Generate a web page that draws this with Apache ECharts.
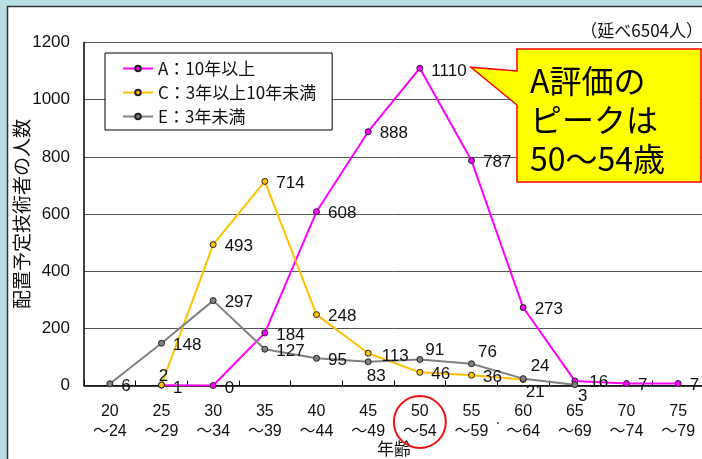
<!DOCTYPE html>
<html><head><meta charset="utf-8">
<script src="https://cdn.jsdelivr.net/npm/echarts@6/dist/echarts.min.js"></script>
<style>html,body{margin:0;padding:0;background:#b9dfe3;}#c{width:702px;height:459px;}</style>
</head><body><div id="c"></div>
<script>
var categories = ['20～24','25～29','30～34','35～39','40～44','45～49','50～54','55～59','60～64','65～69','70～74','75～79'];
var seriesA = [null, 1, 0, 184, 608, 888, 1110, 787, 273, 16, 7, 7];
var seriesC = [null, 2, 493, 714, 248, 113, 46, 36, 21, null, null, null];
var seriesE = [6, 148, 297, 127, 95, 83, 91, 76, 24, 3, null, null];
var yTicks = [0, 200, 400, 600, 800, 1000, 1200];
var names = ['A：10年以上', 'C：3年以上10年未満', 'E：3年未満'];

var FONT = '"Liberation Sans", "Noto Sans CJK JP", sans-serif';
var JFONT = '"Noto Sans CJK JP", sans-serif';

// label placement tweaks (styling only)
var labelTweaks = {
  A: {1:{offset:[0,3]}, 2:{offset:[0,3]}, 6:{offset:[0,3]}, 9:{offset:[3,1]}},
  C: {1:{position:'top', distance:0, offset:[2,3]}, 5:{offset:[2,3]}, 8:{position:'bottom', distance:1, offset:[12,0]}},
  E: {0:{offset:[0,3]}, 5:{position:'bottom', distance:3, offset:[8,0]}, 6:{distance:2, offset:[0,-9]},
      7:{distance:3, offset:[0,-11]}, 8:{distance:4, offset:[0,-12]}, 9:{position:'bottom', distance:0, offset:[8,0]}}
};

function build(arr, key) {
  return arr.map(function (v, i) {
    var t = labelTweaks[key][i];
    if (v === null) return null;
    return t ? {value: v, label: t} : v;
  });
}

function mkSeries(name, arr, key, color) {
  return {
    name: name, type: 'line', data: build(arr, key),
    symbol: 'circle', symbolSize: 6,
    itemStyle: {color: color, borderColor: '#222', borderWidth: 1},
    lineStyle: {color: color, width: 2},
    connectNulls: false,
    label: {show: true, position: 'right', distance: 8, offset: [0, 2], fontSize: 17, color: '#111', fontFamily: FONT},
    emphasis: {disabled: true},
    z: 3
  };
}

var chart = echarts.init(document.getElementById('c'), null, {renderer: 'canvas'});
var option = {
  animation: false,
  backgroundColor: '#b9dfe3',
  grid: {left: 84, top: 42.5, width: 620, height: 343, containLabel: false, outerBoundsMode: 'none'},
  legend: {
    orient: 'vertical', left: 105, top: 53,
    data: names,
    backgroundColor: '#fff', borderColor: '#000', borderWidth: 1,
    padding: [7, 16, 5, 17],
    itemWidth: 30, itemHeight: 7, itemGap: 7,
    textStyle: {fontSize: 17, color: '#111', fontFamily: JFONT},
    selectedMode: false
  },
  xAxis: {
    type: 'category', data: categories, boundaryGap: true,
    name: '年齢', nameLocation: 'middle', nameGap: 55, nameMoveOverlap: false,
    nameTextStyle: {fontSize: 17, color: '#111', fontFamily: JFONT},
    axisLine: {lineStyle: {color: '#000', width: 1.5}},
    axisTick: {show: true, inside: true, length: 5, alignWithLabel: false, lineStyle: {color: '#000'}},
    axisLabel: {fontSize: 16, color: '#111', fontFamily: FONT, margin: 16, lineHeight: 20,
      formatter: function (v) { return v.replace('～', '\n～'); }},
    splitLine: {show: false}
  },
  yAxis: {
    type: 'value', min: yTicks[0], max: yTicks[yTicks.length - 1], interval: yTicks[1] - yTicks[0],
    name: '配置予定技術者の人数', nameLocation: 'middle', nameRotate: 90, nameGap: 53, nameMoveOverlap: false,
    nameTextStyle: {fontSize: 19, color: '#111', fontFamily: JFONT},
    axisLine: {show: true, lineStyle: {color: '#000', width: 1.5}},
    axisTick: {show: false},
    axisLabel: {fontSize: 17, color: '#111', fontFamily: FONT, margin: 14,
      formatter: function (v) { return String(v); }},
    splitLine: {lineStyle: {color: '#555', width: 1}}
  },
  series: [
    mkSeries(names[0], seriesA, 'A', '#ff00ff'),
    mkSeries(names[1], seriesC, 'C', '#ffc000'),
    mkSeries(names[2], seriesE, 'E', '#808080')
  ]
};
chart.setOption(option);

// annotations anchored to the peak point
var peak = chart.convertToPixel({seriesIndex: 0}, [6, seriesA[6]]);
var tipX = peak[0] + 51, tipY = peak[1] - 1;
chart.setOption({
  graphic: [
    {type: 'rect', z: -10, silent: true, shape: {x: 7.5, y: 6.5, width: 720, height: 480},
     style: {fill: '#fff', stroke: '#333', lineWidth: 1.5}},
    {type: 'text', z: 10, x: 703, y: 31, style: {text: '（延べ6504人）',
      font: '17px ' + JFONT, fill: '#111', textAlign: 'right', textVerticalAlign: 'middle'}},
    {type: 'polygon', z: 20, shape: {points: [[517, 49], [701, 49], [701, 182], [517, 182], [517, 105], [tipX, tipY], [517, 71]]},
     style: {fill: '#ffff00', stroke: '#ff0000', lineWidth: 1.5}},
    {type: 'text', z: 21, x: 530, y: 120, style: {text: 'A評価の\nピークは\n50～54歳', font: '32px ' + JFONT,
      fill: '#000', textAlign: 'left', textVerticalAlign: 'middle', lineHeight: 39}},
    {type: 'circle', z: 20, shape: {cx: peak[0], cy: 422, r: 26}, style: {fill: 'none', stroke: '#ee1111', lineWidth: 2}},
    {type: 'circle', z: 20, shape: {cx: 498, cy: 423, r: 0.9}, style: {fill: '#333'}}
  ]
});
</script></body></html>
